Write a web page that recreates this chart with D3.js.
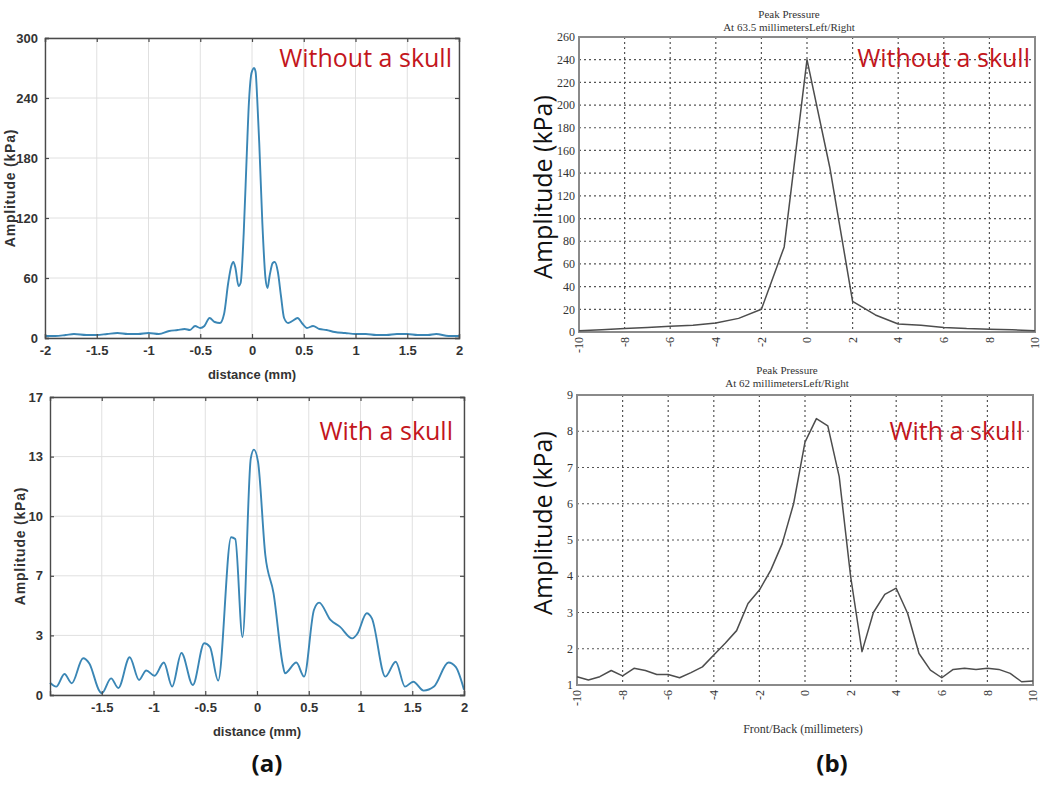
<!DOCTYPE html>
<html>
<head>
<meta charset="utf-8">
<script src="https://cdn.jsdelivr.net/npm/d3@7"></script>
<style>
  body { margin: 0; background: #fff; }
  svg { display: block; }
</style>
</head>
<body>
<div id="chart"></div>
<script>
// (a) top: without a skull, [distance mm, kPa]
const simNoSkull = [
  [-2, 2], [-1.9, 2], [-1.8, 3], [-1.72, 4], [-1.6, 3], [-1.5, 3], [-1.4, 4], [-1.3, 5],
  [-1.2, 4], [-1.1, 4], [-1.0, 5], [-0.9, 4], [-0.8, 7], [-0.72, 8], [-0.65, 9], [-0.6, 8],
  [-0.55, 12], [-0.5, 10], [-0.46, 12], [-0.41, 20], [-0.36, 16], [-0.31, 15], [-0.27, 24],
  [-0.23, 55], [-0.2, 72], [-0.18, 76], [-0.16, 70], [-0.13, 52], [-0.11, 55], [-0.08, 105],
  [-0.05, 185], [-0.03, 235], [-0.01, 262], [0.005, 268], [0.02, 270], [0.035, 266],
  [0.05, 240], [0.07, 195], [0.1, 115], [0.13, 60], [0.15, 50], [0.17, 62], [0.2, 75],
  [0.22, 76], [0.25, 66], [0.28, 42], [0.31, 20], [0.35, 15], [0.39, 17], [0.44, 20],
  [0.49, 14], [0.53, 10], [0.59, 12], [0.65, 9], [0.72, 8], [0.8, 6], [0.9, 5], [1.0, 4],
  [1.1, 4], [1.2, 3], [1.3, 3], [1.4, 4], [1.5, 4], [1.6, 3], [1.7, 3], [1.78, 4],
  [1.9, 2], [2, 2]
];
// (a) bottom: with a skull
const simSkull = [
  [-2.0, 0.7], [-1.94, 0.48], [-1.86, 1.2], [-1.79, 0.67], [-1.68, 2.1], [-1.62, 1.8],
  [-1.52, 0.2], [-1.5, 0.1], [-1.41, 0.95], [-1.34, 0.4], [-1.23, 2.15], [-1.14, 0.86],
  [-1.07, 1.4], [-0.99, 1.1], [-0.9, 1.85], [-0.82, 0.48], [-0.73, 2.4], [-0.62, 0.57],
  [-0.51, 2.95], [-0.455, 2.75], [-0.375, 0.82], [-0.25, 9.0], [-0.21, 8.9], [-0.14, 3.3],
  [-0.06, 13.5], [-0.03, 14.0], [0.01, 13.3], [0.08, 8.0], [0.16, 5.8], [0.25, 1.7],
  [0.27, 1.24], [0.38, 1.85], [0.455, 1.05], [0.55, 4.85], [0.6, 5.27], [0.71, 4.28],
  [0.8, 3.9], [0.92, 3.23], [0.97, 3.5], [1.06, 4.66], [1.11, 4.37], [1.24, 1.05],
  [1.34, 1.9], [1.43, 0.48], [1.51, 0.76], [1.61, 0.25], [1.71, 0.48], [1.85, 1.85],
  [1.92, 1.6], [2.0, 0.3]
];
// (b) top: peak pressure without a skull, [mm, kPa]
const peakNoSkull = [
  [-10, 1], [-9, 2], [-8, 3], [-7, 4], [-6, 5], [-5, 6], [-4, 8], [-3, 12], [-2, 20],
  [-1, 75], [0, 240], [1, 145], [2, 27], [3, 15], [4, 7], [5, 6], [6, 4], [7, 3],
  [8, 2.5], [9, 2], [10, 1]
];
// (b) bottom: peak pressure with a skull
const peakSkull = [
  [-10, 1.23], [-9.5, 1.14], [-9, 1.23], [-8.5, 1.4], [-8, 1.25], [-7.5, 1.46], [-7, 1.4],
  [-6.5, 1.29], [-6, 1.29], [-5.5, 1.2], [-5, 1.34], [-4.5, 1.5], [-4, 1.83], [-3.5, 2.15],
  [-3, 2.5], [-2.5, 3.25], [-2, 3.62], [-1.5, 4.17], [-1, 4.9], [-0.5, 6.0], [0, 7.7],
  [0.5, 8.35], [1, 8.15], [1.5, 6.75], [2, 4.0], [2.5, 1.92], [3, 3.0], [3.5, 3.5],
  [4, 3.67], [4.5, 2.98], [5, 1.87], [5.5, 1.41], [6, 1.2], [6.5, 1.43], [7, 1.46],
  [7.5, 1.43], [8, 1.46], [8.5, 1.43], [9, 1.32], [9.5, 1.09], [10, 1.11]
];

const distTicks = [-2, -1.5, -1, -0.5, 0, 0.5, 1, 1.5, 2];
const distTicksSkull = [-1.5, -1, -0.5, 0, 0.5, 1, 1.5, 2];
const ampTicksNoSkull = [0, 60, 120, 180, 240, 300];
const ampTicksSkull = [0, 3.4, 6.8, 10.2, 13.6, 17];
const ampLabelsSkull = ['0', '3', '7', '10', '13', '17'];
const mmTicks = [-10, -8, -6, -4, -2, 0, 2, 4, 6, 8, 10];
const peakTicksNoSkull = [0, 20, 40, 60, 80, 100, 120, 140, 160, 180, 200, 220, 240, 260];
const peakTicksSkull = [1, 2, 3, 4, 5, 6, 7, 8, 9];

const W = 1048, H = 787;
const redColor = '#c3161c';
const blueLine = '#3a86b5';
const matFont = '"Liberation Sans Narrow", "Liberation Sans", Arial, sans-serif';
const serifFont = '"Liberation Serif", "Times New Roman", serif';
const labelFont = '"Open Sans", "Noto Sans", sans-serif';

const svg = d3.select('#chart').append('svg')
  .attr('width', W)
  .attr('height', H);

// matlab style panel, left column
function matlabPanel(o) {
  const x = d3.scaleLinear().domain([-2, 2]).range([o.left, o.right]);
  const y = d3.scaleLinear().domain(o.yDomain).range([o.bottom, o.top]);
  const g = svg.append('g');

  // grid
  g.selectAll('line.vgrid')
    .data(o.xTicks)
    .enter()
    .append('line')
    .attr('x1', d => x(d)).attr('x2', d => x(d))
    .attr('y1', o.top).attr('y2', o.bottom)
    .attr('stroke', '#e0e0e0').attr('stroke-width', 1);
  g.selectAll('line.hgrid')
    .data(o.yTicks)
    .enter()
    .append('line')
    .attr('x1', o.left).attr('x2', o.right)
    .attr('y1', d => y(d)).attr('y2', d => y(d))
    .attr('stroke', '#e0e0e0').attr('stroke-width', 1);

  const line = d3.line()
    .x(d => x(d[0]))
    .y(d => y(d[1]))
    .curve(o.curve);

  g.append('path')
    .datum(o.data)
    .attr('fill', 'none')
    .attr('stroke', blueLine)
    .attr('stroke-width', 1.9)
    .attr('stroke-linejoin', 'round')
    .attr('d', line);

  // axes with inward ticks
  const xb = d3.axisBottom(x).tickValues(o.xTicks).tickSize(-4).tickPadding(8).tickFormat(d => String(d));
  const xt = d3.axisTop(x).tickValues(o.xTicks).tickSize(-4).tickFormat('');
  const yl = d3.axisLeft(y).tickValues(o.yTicks).tickSize(-4).tickPadding(7)
    .tickFormat((d, i) => o.yLabels ? o.yLabels[i] : d);
  const yr = d3.axisRight(y).tickValues(o.yTicks).tickSize(-4).tickFormat('');

  const axes = [
    g.append('g').attr('transform', 'translate(0,' + o.bottom + ')').call(xb),
    g.append('g').attr('transform', 'translate(0,' + o.top + ')').call(xt),
    g.append('g').attr('transform', 'translate(' + o.left + ',0)').call(yl),
    g.append('g').attr('transform', 'translate(' + o.right + ',0)').call(yr)
  ];
  axes.forEach(a => {
    a.select('.domain').attr('stroke', '#4a4a4a').attr('stroke-width', 1.4);
    a.selectAll('.tick line').attr('stroke', '#4a4a4a').attr('stroke-width', 1.2);
    a.selectAll('text')
      .style('font-family', matFont)
      .style('font-size', '13px')
      .style('font-weight', 'bold')
      .style('fill', '#333');
  });
  if (o.hideFirstX) {
    axes[0].selectAll('.tick text').filter(d => d === -2).remove();
  }

  g.append('text')
    .text('distance (mm)')
    .attr('x', (o.left + o.right) / 2)
    .attr('y', o.bottom + 41)
    .style('text-anchor', 'middle')
    .style('font-family', matFont)
    .style('font-size', '13px')
    .style('font-weight', 'bold')
    .style('fill', '#333');

  g.append('text')
    .text('Amplitude (kPa)')
    .attr('transform', 'translate(' + o.yTitleX + ',' + (o.top + o.bottom) / 2 + ') rotate(-90)')
    .style('text-anchor', 'middle')
    .style('font-family', '"Liberation Sans", Arial, sans-serif')
    .style('font-size', '14px')
    .style('font-weight', 'bold')
    .style('letter-spacing', '0.8px')
    .style('fill', '#333');

  g.append('text')
    .text(o.label)
    .attr('x', o.labelX)
    .attr('y', o.labelY)
    .style('text-anchor', 'end')
    .style('font-family', labelFont)
    .style('font-size', '25px')
    .style('fill', redColor);
}

// peak pressure panel, right column
function peakPanel(o) {
  const x = d3.scaleLinear().domain([-10, 10]).range([o.left, o.right]);
  const y = d3.scaleLinear().domain(o.yDomain).range([o.bottom, o.top]);
  const g = svg.append('g');

  g.selectAll('line.vgrid')
    .data(mmTicks.slice(1, -1))
    .enter()
    .append('line')
    .attr('x1', d => x(d)).attr('x2', d => x(d))
    .attr('y1', o.top).attr('y2', o.bottom)
    .attr('stroke', '#555').attr('stroke-width', 1.2)
    .attr('stroke-dasharray', '2,3');
  g.selectAll('line.hgrid')
    .data(o.yTicks.slice(1, -1))
    .enter()
    .append('line')
    .attr('x1', o.left).attr('x2', o.right)
    .attr('y1', d => y(d)).attr('y2', d => y(d))
    .attr('stroke', '#555').attr('stroke-width', 1.2)
    .attr('stroke-dasharray', '2,3');

  g.append('rect')
    .attr('x', o.left).attr('y', o.top)
    .attr('width', o.right - o.left).attr('height', o.bottom - o.top)
    .attr('fill', 'none')
    .attr('stroke', '#8a8a8a')
    .attr('stroke-width', 2);

  const line = d3.line()
    .x(d => x(d[0]))
    .y(d => y(d[1]));

  g.append('path')
    .datum(o.data)
    .attr('fill', 'none')
    .attr('stroke', '#4d4d4d')
    .attr('stroke-width', 1.5)
    .attr('stroke-linejoin', 'round')
    .attr('d', line);

  g.selectAll('text.ytick')
    .data(o.yTicks)
    .enter()
    .append('text')
    .attr('class', 'ytick')
    .text(d => d)
    .attr('x', o.left - 4)
    .attr('y', d => y(d))
    .attr('dy', '0.35em')
    .style('text-anchor', 'end')
    .style('font-family', serifFont)
    .style('font-size', '12px')
    .style('fill', '#333');

  g.selectAll('text.xtick')
    .data(mmTicks)
    .enter()
    .append('text')
    .attr('class', 'xtick')
    .text(d => d)
    .attr('transform', d => 'translate(' + x(d) + ',' + (o.bottom + 5) + ') rotate(-90)')
    .attr('dy', '0.35em')
    .style('text-anchor', 'end')
    .style('font-family', serifFont)
    .style('font-size', '12px')
    .style('fill', '#333');

  o.titles.forEach((t, i) => {
    g.append('text')
      .text(t)
      .attr('x', (o.left + o.right) / 2 - 18)
      .attr('y', o.titleY + i * 13)
      .style('text-anchor', 'middle')
      .style('font-family', serifFont)
      .style('font-size', '11px')
      .style('fill', '#333');
  });

  g.append('text')
    .text('Amplitude (kPa)')
    .attr('transform', 'translate(' + o.yTitleX + ',' + o.yTitleY + ') rotate(-90)')
    .style('text-anchor', 'middle')
    .style('font-family', labelFont)
    .style('font-size', '25px')
    .style('fill', '#111');

  if (o.xTitle) {
    g.append('text')
      .text(o.xTitle)
      .attr('x', (o.left + o.right) / 2 - 2)
      .attr('y', o.bottom + 48)
      .style('text-anchor', 'middle')
      .style('font-family', serifFont)
      .style('font-size', '12px')
      .style('fill', '#333');
  }

  g.append('text')
    .text(o.label)
    .attr('x', o.labelX)
    .attr('y', o.labelY)
    .style('text-anchor', 'end')
    .style('font-family', labelFont)
    .style('font-size', '25px')
    .style('fill', redColor);
}

matlabPanel({
  left: 45, right: 459, top: 38, bottom: 338,
  yDomain: [0, 300], yTicks: ampTicksNoSkull, xTicks: distTicks,
  data: simNoSkull, curve: d3.curveMonotoneX,
  yTitleX: 15, label: 'Without a skull', labelX: 452, labelY: 67
});

matlabPanel({
  left: 50, right: 464, top: 397, bottom: 695,
  yDomain: [0, 17], yTicks: ampTicksSkull, yLabels: ampLabelsSkull, xTicks: distTicksSkull,
  data: simSkull, curve: d3.curveMonotoneX, hideFirstX: true,
  yTitleX: 25, label: 'With a skull', labelX: 453, labelY: 440
});

peakPanel({
  left: 579, right: 1035, top: 37, bottom: 332,
  yDomain: [0, 260], yTicks: peakTicksNoSkull, data: peakNoSkull,
  titles: ['Peak Pressure', 'At 63.5 millimetersLeft/Right'], titleY: 18,
  yTitleX: 552, yTitleY: 187,
  label: 'Without a skull', labelX: 1030, labelY: 67
});

peakPanel({
  left: 577, right: 1033, top: 395, bottom: 685,
  yDomain: [1, 9], yTicks: peakTicksSkull, data: peakSkull,
  titles: ['Peak Pressure', 'At 62 millimetersLeft/Right'], titleY: 374,
  yTitleX: 552, yTitleY: 523, xTitle: 'Front/Back (millimeters)',
  label: 'With a skull', labelX: 1023, labelY: 440
});

// panel letters
svg.selectAll('text.panel-letter')
  .data([{ t: '(a)', x: 267 }, { t: '(b)', x: 832 }])
  .enter()
  .append('text')
  .attr('class', 'panel-letter')
  .text(d => d.t)
  .attr('x', d => d.x)
  .attr('y', 772)
  .style('text-anchor', 'middle')
  .style('font-family', labelFont)
  .style('font-size', '24px')
  .style('font-weight', 'bold')
  .style('fill', '#111');
</script>
</body>
</html>
